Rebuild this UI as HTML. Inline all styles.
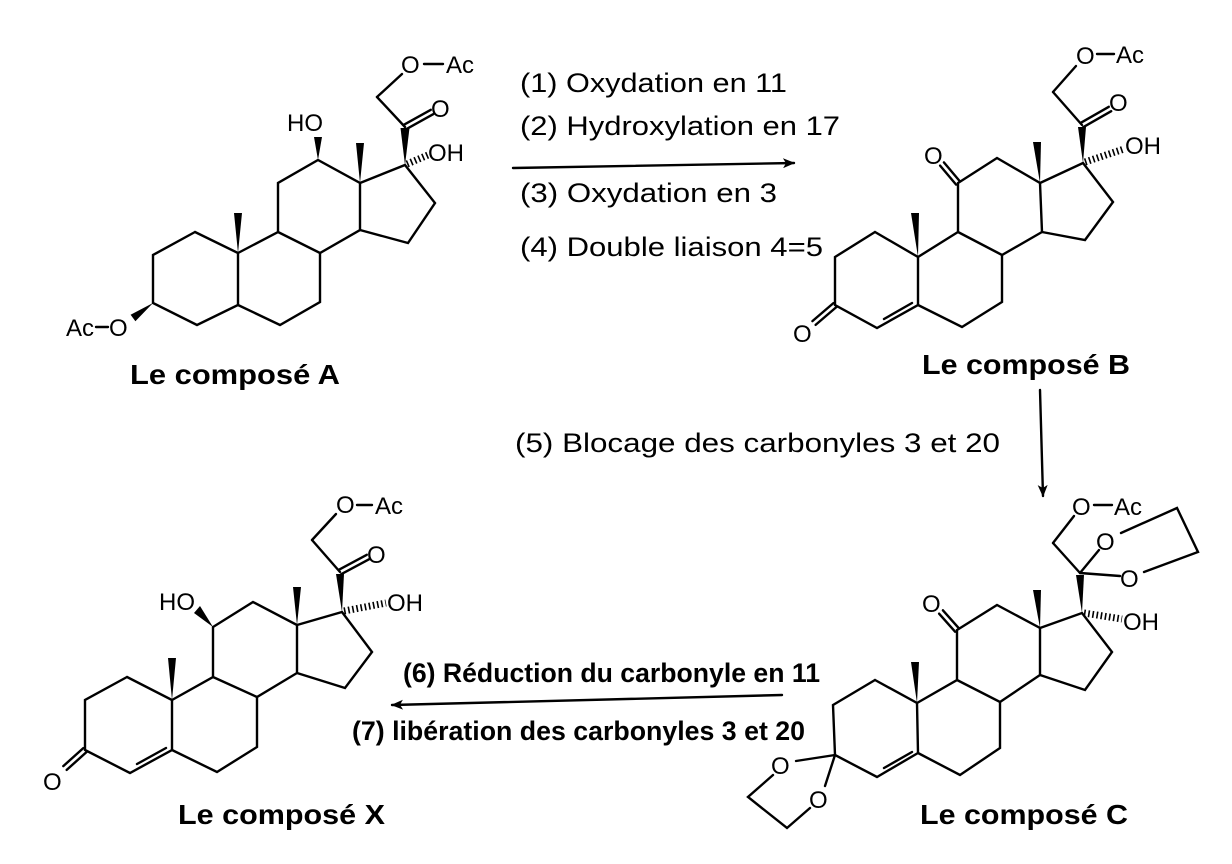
<!DOCTYPE html>
<html><head><meta charset="utf-8"><style>
html,body{margin:0;padding:0;background:#fff;}
svg{display:block;}
text{font-family:"Liberation Sans",Arial,sans-serif;fill:#000;}
.b{stroke:#000;stroke-width:2.4;stroke-linecap:round;fill:none;}
.h{stroke:#000;stroke-width:7;stroke-dasharray:1.6,2.6;fill:none;}
.a{font-size:24px;}
.l{font-size:28px;font-weight:bold;}
.r{font-size:27px;}
.rb{font-size:27px;font-weight:bold;}
</style></head><body>
<svg width="1232" height="864" viewBox="0 0 1232 864" xmlns="http://www.w3.org/2000/svg">
<defs><marker id="ah" markerWidth="12" markerHeight="10" refX="11" refY="5" orient="auto" markerUnits="userSpaceOnUse"><path d="M0,0 L12,5 L0,10 L3,5 z" fill="#000"/></marker></defs>

<!-- ===== Compound A ===== -->
<g class="b">
<polyline points="195,232 153,255 153,303 197,325 238,305 238,253 195,232"/>
<polyline points="238,253 278,232 278,183 318,160 360,183 360,230 320,253 278,232"/>
<polyline points="320,253 320,302 280,325 238,305"/>
<polyline points="360,230 408,243 435,203 405,165 360,183"/>
<line x1="405" y1="127" x2="377" y2="97"/>
<line x1="377" y1="97" x2="402" y2="74"/>
<line x1="424" y1="64" x2="443" y2="64"/>
<line x1="406.2" y1="129.2" x2="433.2" y2="114.2"/>
<line x1="403.8" y1="124.8" x2="430.8" y2="109.8"/>
<line x1="96" y1="327" x2="108" y2="327"/>
</g>
<polygon points="238,253 234,213 242,213"/>
<polygon points="360,183 356,143 364,143"/>
<polygon points="318,160 314,137 322,137"/>
<polygon points="405,165 400.5,128 409.5,128"/>
<polygon points="153,303 135.4,321.2 130.6,314.8"/>
<line class="h" x1="407" y1="164" x2="428" y2="155"/>
<text class="a" x="401" y="73">O</text><text class="a" x="446" y="73">Ac</text>
<text class="a" x="431" y="117">O</text>
<text class="a" x="428" y="161">OH</text>
<text class="a" x="287" y="131">HO</text>
<text class="a" x="66" y="336">Ac</text><text class="a" x="109" y="336">O</text>
<text class="l" x="130" y="384" textLength="210" lengthAdjust="spacingAndGlyphs">Le composé A</text>

<!-- ===== Arrow 1 ===== -->
<line class="b" x1="513" y1="168" x2="794" y2="163" marker-end="url(#ah)"/>
<text class="r" x="520" y="92" textLength="267" lengthAdjust="spacingAndGlyphs">(1) Oxydation en 11</text>
<text class="r" x="520" y="135" textLength="320" lengthAdjust="spacingAndGlyphs">(2) Hydroxylation en 17</text>
<text class="r" x="520" y="202" textLength="257" lengthAdjust="spacingAndGlyphs">(3) Oxydation en 3</text>
<text class="r" x="520" y="256" textLength="303" lengthAdjust="spacingAndGlyphs">(4) Double liaison 4=5</text>

<!-- ===== Compound B ===== -->
<g class="b">
<polyline points="875,232 835,257 835,305 877,328 918,305 918,257 875,232"/>
<polyline points="918,257 958,232 958,183 997,158 1040,183 1042,232 1002,255 958,232"/>
<polyline points="1002,255 1002,302 962,327 918,305"/>
<polyline points="1042,232 1085,240 1113,202 1083,163 1040,183"/>
<line x1="884" y1="319" x2="912" y2="303"/>
<line x1="836.6" y1="306.9" x2="815.6" y2="324.9"/>
<line x1="833.4" y1="303.1" x2="812.4" y2="321.1"/>
<line x1="959.9" y1="181.4" x2="943.9" y2="162.4"/>
<line x1="956.1" y1="184.6" x2="940.1" y2="165.6"/>
<line x1="1082" y1="125" x2="1053" y2="92"/>
<line x1="1053" y1="92" x2="1076" y2="66"/>
<line x1="1097" y1="54" x2="1114" y2="54"/>
<line x1="1083.2" y1="127.2" x2="1111.2" y2="111.2"/>
<line x1="1080.8" y1="122.8" x2="1108.8" y2="106.8"/>
</g>
<polygon points="918,257 911,213 919,213"/>
<polygon points="1040,183 1033,142 1041,142"/>
<polygon points="1083,163 1078,127 1086,127"/>
<line class="h" x1="1085" y1="162" x2="1124" y2="149"/>
<text class="a" x="1076" y="64">O</text><text class="a" x="1116" y="63">Ac</text>
<text class="a" x="1109" y="111">O</text>
<text class="a" x="1125" y="154">OH</text>
<text class="a" x="924" y="164">O</text>
<text class="a" x="793" y="342">O</text>
<text class="l" x="922" y="374" textLength="208" lengthAdjust="spacingAndGlyphs">Le composé B</text>

<!-- ===== Arrow 5 ===== -->
<line class="b" x1="1040" y1="390" x2="1043" y2="496" marker-end="url(#ah)"/>
<text class="r" x="515" y="452" textLength="485" lengthAdjust="spacingAndGlyphs">(5) Blocage des carbonyles 3 et 20</text>

<!-- ===== Compound C ===== -->
<g class="b">
<polyline points="875,680 833,705 835,755 877,777 918,753 917,703 875,680"/>
<polyline points="917,703 957,680 957,630 997,605 1040,628 1040,675 1000,702 957,680"/>
<polyline points="1000,702 1000,748 960,775 918,753"/>
<polyline points="1040,675 1085,690 1112,652 1082,613 1040,628"/>
<line x1="884" y1="768" x2="912" y2="752"/>
<line x1="958.9" y1="628.3" x2="942.9" y2="610.3"/>
<line x1="955.1" y1="631.7" x2="939.1" y2="613.7"/>
<line x1="1080" y1="573" x2="1053" y2="543"/>
<line x1="1053" y1="543" x2="1074" y2="516"/>
<line x1="1094" y1="505" x2="1112" y2="505"/>
<line x1="1080" y1="573" x2="1099" y2="550"/>
<line x1="1080" y1="573" x2="1120" y2="576"/>
<polyline points="1121,533 1177,508 1198,552 1144,572"/>
<line x1="835" y1="755" x2="796" y2="761"/>
<line x1="835" y1="755" x2="825" y2="786"/>
<polyline points="773,775 748,797 787,828 810,808"/>
</g>
<polygon points="917,703 911,662 919,662"/>
<polygon points="1040,628 1033,590 1041,590"/>
<polygon points="1082,613 1076,575 1084,575"/>
<line class="h" x1="1084" y1="613" x2="1122" y2="619"/>
<text class="a" x="1072" y="515">O</text><text class="a" x="1114" y="515">Ac</text>
<text class="a" x="1096" y="550">O</text>
<text class="a" x="1120" y="587">O</text>
<text class="a" x="1123" y="630">OH</text>
<text class="a" x="922" y="612">O</text>
<text class="a" x="771" y="774">O</text>
<text class="a" x="809" y="808">O</text>
<text class="l" x="920" y="824" textLength="208" lengthAdjust="spacingAndGlyphs">Le composé C</text>

<!-- ===== Arrow 6/7 ===== -->
<line class="b" x1="782" y1="695" x2="392" y2="705" marker-end="url(#ah)"/>
<text class="rb" x="403" y="682" textLength="417" lengthAdjust="spacingAndGlyphs">(6) Réduction du carbonyle en 11</text>
<text class="rb" x="352" y="740" textLength="453" lengthAdjust="spacingAndGlyphs">(7) libération des carbonyles 3 et 20</text>

<!-- ===== Compound X ===== -->
<g class="b">
<polyline points="127,677 85,700 85,750 130,773 172,750 172,700 127,677"/>
<polyline points="172,700 213,677 213,627 253,602 297,625 297,673 257,697 213,677"/>
<polyline points="257,697 257,747 217,772 172,750"/>
<polyline points="297,673 345,688 372,652 342,612 297,625"/>
<line x1="137" y1="764" x2="166" y2="748"/>
<line x1="86.7" y1="751.9" x2="66.7" y2="769.9"/>
<line x1="83.3" y1="748.1" x2="63.3" y2="766.1"/>
<line x1="340" y1="572" x2="312" y2="540"/>
<line x1="312" y1="540" x2="336" y2="514"/>
<line x1="357" y1="505" x2="372" y2="505"/>
<line x1="341.2" y1="574.2" x2="369.2" y2="559.2"/>
<line x1="338.8" y1="569.8" x2="366.8" y2="554.8"/>
</g>
<polygon points="172,700 168,658 176,658"/>
<polygon points="297,625 293,587 301,587"/>
<polygon points="342,612 336,574 344,574"/>
<polygon points="213,627 194,613 200,606"/>
<line class="h" x1="344" y1="611" x2="386" y2="603"/>
<text class="a" x="336" y="513">O</text><text class="a" x="375" y="514">Ac</text>
<text class="a" x="367" y="563">O</text>
<text class="a" x="387" y="611">OH</text>
<text class="a" x="159" y="610">HO</text>
<text class="a" x="43" y="790">O</text>
<text class="l" x="178" y="824" textLength="207" lengthAdjust="spacingAndGlyphs">Le composé X</text>
</svg>
</body></html>
